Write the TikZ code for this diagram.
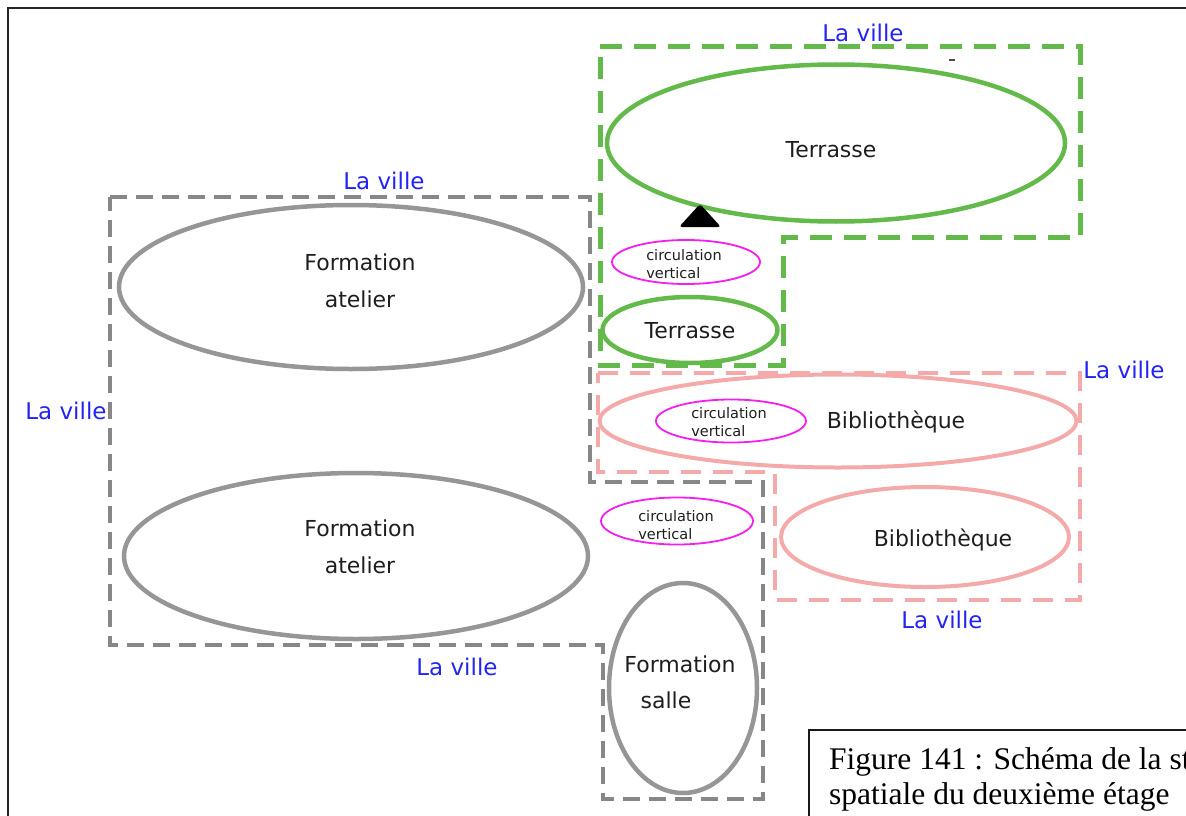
\documentclass[tikz,border=0pt]{standalone}
\usepackage{fontspec}
\setmainfont{DejaVu Sans}
\newfontfamily\capfont{Liberation Serif}
\usepackage{xcolor}
\usetikzlibrary{shapes.geometric, positioning}
\definecolor{villeblue}{RGB}{35,35,245}
\definecolor{zonegreen}{RGB}{100,185,75}
\definecolor{zonegrey}{RGB}{135,135,135}
\definecolor{roomgrey}{RGB}{150,150,150}
\definecolor{zonepink}{RGB}{245,170,170}
\definecolor{circmag}{RGB}{245,30,240}
\definecolor{inkdark}{RGB}{30,30,30}

\begin{document}
\begin{tikzpicture}[x=1pt,y=-1pt,
  ville/.style={text=villeblue,font=\fontsize{23}{26}\selectfont,inner sep=0},
  roomtext/.style={text=inkdark,align=center,font=\fontsize{22}{37}\selectfont,inner sep=0},
  circtext/.style={text=inkdark,align=left,font=\fontsize{14.5}{18}\selectfont,inner sep=0},
  captext/.style={anchor=base west,inner sep=0,font=\capfont\fontsize{31.5}{35}\selectfont},
  room/.style={ellipse,draw,inner sep=0,line width=4.5},
  greenroom/.style={room,draw=zonegreen},
  greyroom/.style={room,draw=roomgrey},
  pinkroom/.style={room,draw=zonepink,line width=4},
  circroom/.style={ellipse,draw=circmag,inner sep=0,line width=1.8},
  zone/.style={line width=4.5,line join=miter},
  ]
\useasboundingbox (0,0) rectangle (1186,816);
\clip (0,0) rectangle (1186,816);
\draw[line width=2,draw=black!85] (8,830) -- (8,8) -- (1200,8);

\draw[zone,draw=zonegrey,dash pattern=on 17 off 9] (110,197) -- (590,197) -- (590,482) -- (763,482) -- (763,799) -- (603,799) -- (603,645) -- (110,645) -- cycle;
\draw[zone,draw=zonegreen,line width=5,dash pattern=on 22 off 12] (600,47) -- (1080,47) -- (1080,237) -- (783,237) -- (783,365) -- (600,365) -- cycle;
\draw[zone,draw=zonepink,dash pattern=on 20 off 12] (598,373) -- (1080,373) -- (1080,600) -- (775,600) -- (775,472) -- (598,472) -- cycle;

\node[greenroom,minimum width=458,minimum height=157] (terr1) at (836,143) {};
\node[greenroom,minimum width=175,minimum height=66] (terr2) at (690,330) {};
\node[pinkroom,minimum width=477,minimum height=93] (bib1) at (838,421) {};
\node[pinkroom,minimum width=288,minimum height=100] (bib2) at (925,537) {};
\node[greyroom,minimum width=464,minimum height=164] (fat1) at (351,287) {};
\node[greyroom,minimum width=464,minimum height=166] (fat2) at (356,556) {};
\node[greyroom,minimum width=148,minimum height=210] (fsal) at (683,688) {};
\node[circroom,minimum width=148,minimum height=44] (circ1) at (686,262) {};
\node[circroom,minimum width=150,minimum height=43] (circ2) at (731,421) {};
\node[circroom,minimum width=152,minimum height=47] (circ3) at (677,521) {};

\fill[black,rounded corners=3] (700,204) -- (721,227) -- (679,227) -- cycle;
\draw[line width=2,draw=black!70] (949,60) -- (955,60);

\node[roomtext] (t1) at (831,150) {Terrasse};
\node[roomtext] (t2) at (690,331) {Terrasse};
\node[roomtext] (b1) at (896,422) {Bibliothèque};
\node[roomtext] (b2) at (943,540) {Bibliothèque};
\node[roomtext] (f1) at (360,281) {Formation\\atelier};
\node[roomtext] (f2) at (360,547) {Formation\\atelier};
\node[roomtext] (f3) at (680,664) {Formation};
\node[roomtext] (f4) at (666,700) {salle};
\node[circtext] (c1) at (684,264) {circulation\\vertical};
\node[circtext] (c2) at (729,422) {circulation\\vertical};
\node[circtext] (c3) at (676,525) {circulation\\vertical};

\node[ville] (v1) at (863,33) {La ville};
\node[ville] (v2) at (384,181) {La ville};
\node[ville] (v3) at (66,411) {La ville};
\node[ville] (v4) at (1124,370) {La ville};
\node[ville] (v5) at (942,620) {La ville};
\node[ville] (v6) at (457,667) {La ville};

\draw[line width=1.8,draw=black!90] (1200,730) -- (809,730) -- (809,830);
\node[captext] (cap1) at (829,769) {Figure 141 : Schéma de la st};
\node[captext] (cap2) at (829,804) {spatiale du deuxième étage};
\end{tikzpicture}
\end{document}
